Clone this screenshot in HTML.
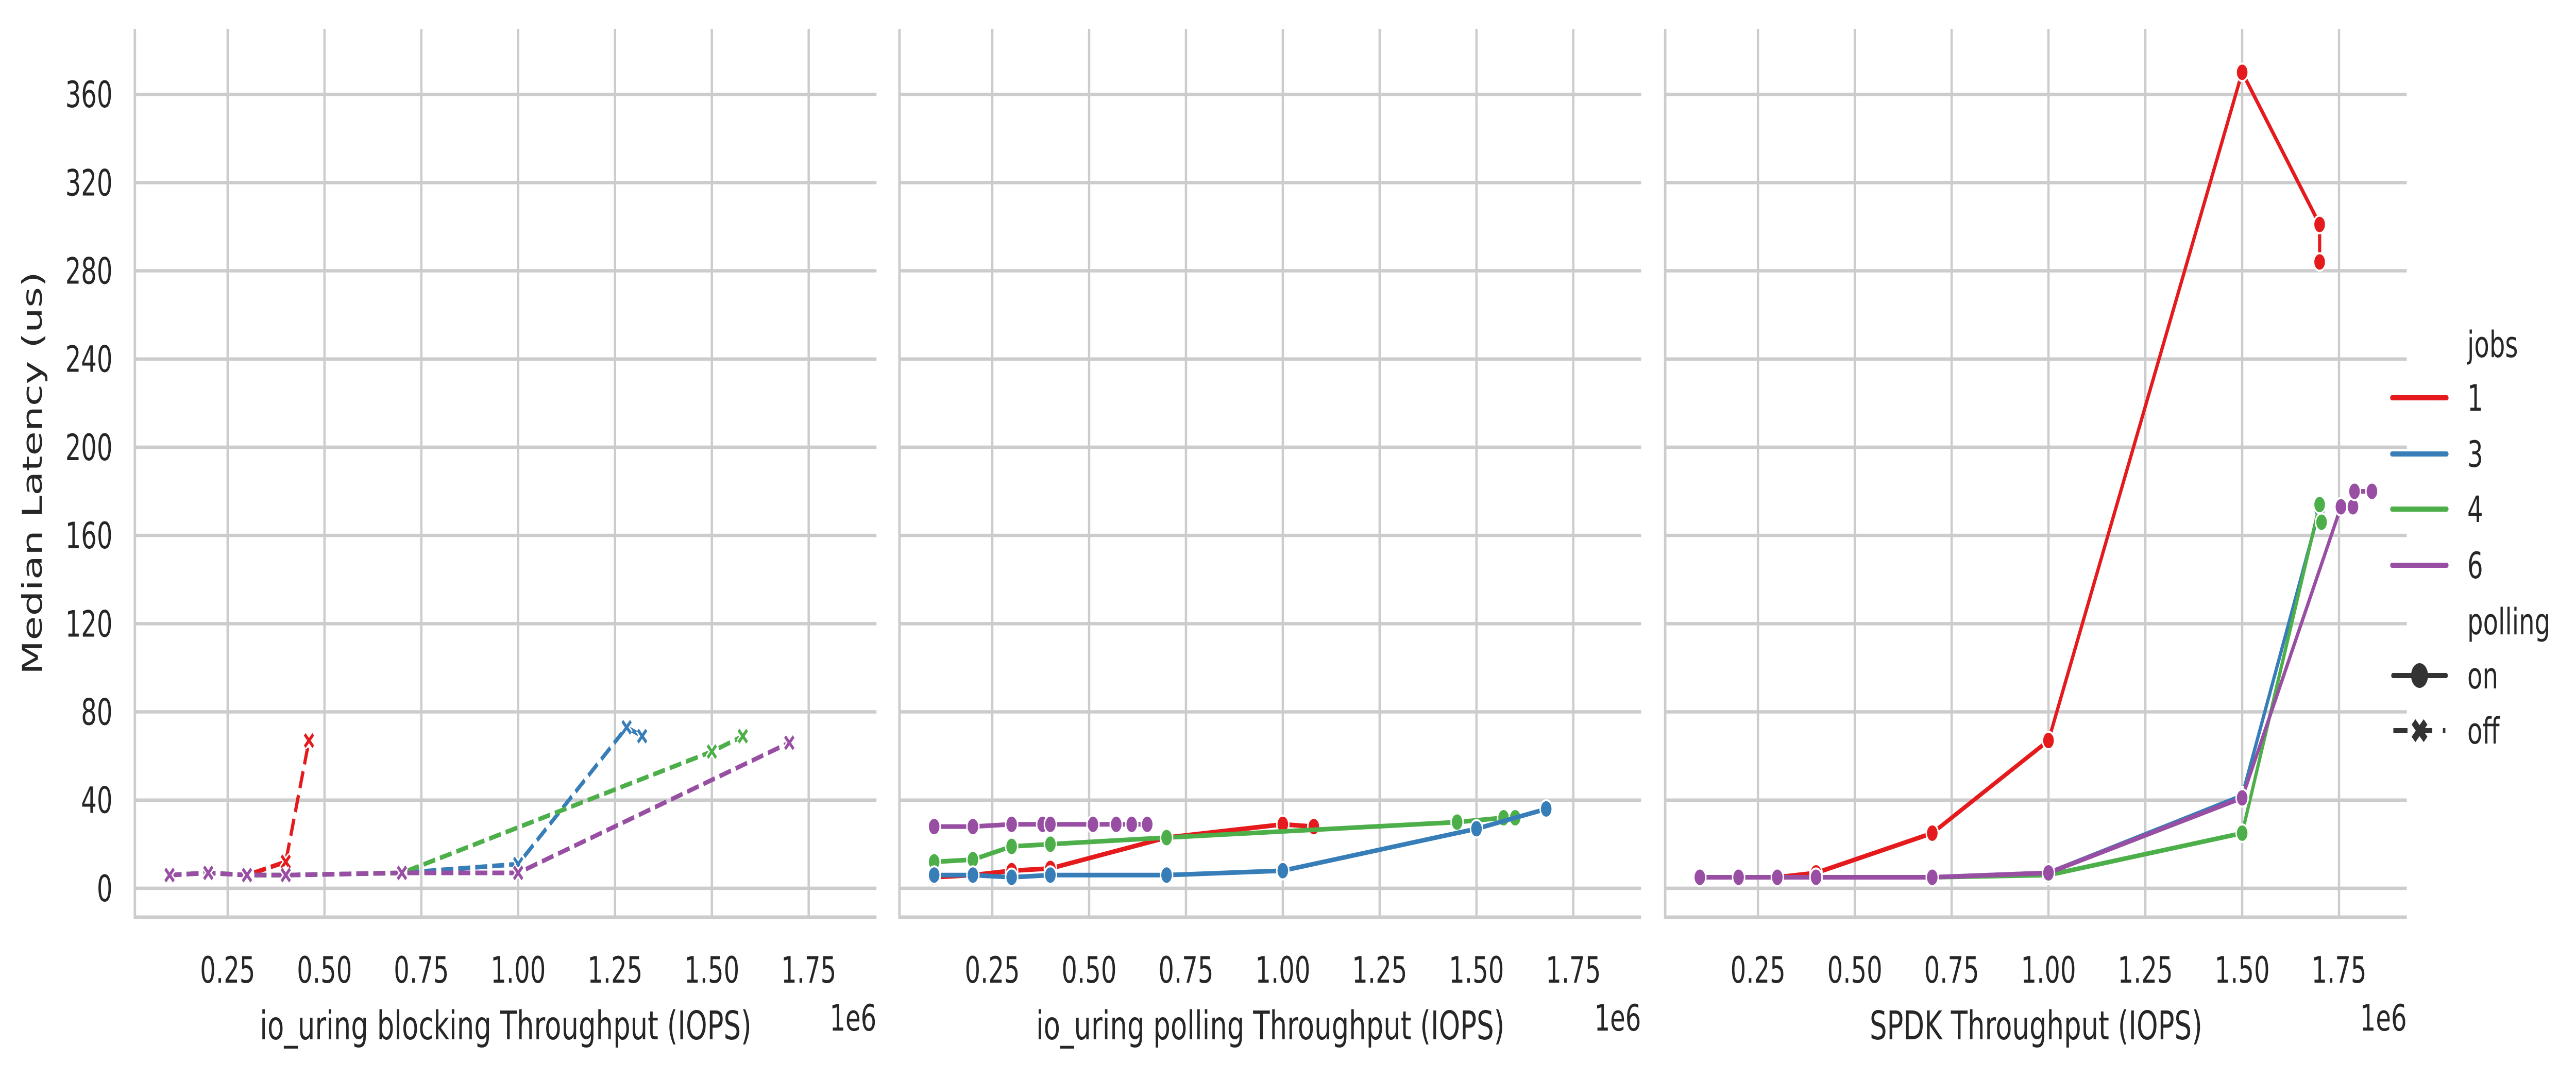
<!DOCTYPE html>
<html><head><meta charset="utf-8"><style>
html,body{margin:0;padding:0;background:#fff;overflow:hidden;width:100vw;height:100vh;}
svg{display:block;width:100vw;height:100vh;font-family:"DejaVu Sans","Liberation Sans",sans-serif;}
</style></head><body>
<svg id="chart" viewBox="0 0 7277 2094" preserveAspectRatio="none" xmlns="http://www.w3.org/2000/svg"></svg>
<script>
// ---- data (throughput in 1e6 IOPS, latency in us) ----
const panelTitles = ["io_uring blocking Throughput (IOPS)", "io_uring polling Throughput (IOPS)", "SPDK Throughput (IOPS)"];
const jobLabels = ["1", "3", "4", "6"];
const xTickLabels = ["0.25", "0.50", "0.75", "1.00", "1.25", "1.50", "1.75"];
const xTickValues = [0.25, 0.5, 0.75, 1.0, 1.25, 1.5, 1.75];
const yTickValues = [0, 40, 80, 120, 160, 200, 240, 280, 320, 360];

// panel 1: blocking (polling off)
const blkJ1x = [0.1, 0.2, 0.3, 0.4, 0.46];
const blkJ1y = [6, 7, 6, 12, 67];
const blkJ3x = [0.1, 0.2, 0.3, 0.4, 0.7, 1.0, 1.28, 1.32];
const blkJ3y = [6, 7, 6, 6, 7, 11, 73, 69];
const blkJ4x = [0.1, 0.2, 0.3, 0.4, 0.7, 1.5, 1.58];
const blkJ4y = [6, 7, 6, 6, 7, 62, 69];
const blkJ6x = [0.1, 0.2, 0.3, 0.4, 0.7, 1.0, 1.7];
const blkJ6y = [6, 7, 6, 6, 7, 7, 66];

// panel 2: io_uring polling (polling on)
const polJ1x = [0.1, 0.2, 0.3, 0.4, 0.7, 1.0, 1.08];
const polJ1y = [5, 6, 8, 9, 23, 29, 28];
const polJ3x = [0.1, 0.2, 0.3, 0.4, 0.7, 1.0, 1.5, 1.68];
const polJ3y = [6, 6, 5, 6, 6, 8, 27, 36];
const polJ4x = [0.1, 0.2, 0.3, 0.4, 0.7, 1.45, 1.57, 1.6];
const polJ4y = [12, 13, 19, 20, 23, 30, 32, 32];
const polJ6x = [0.1, 0.2, 0.3, 0.38, 0.4, 0.51, 0.57, 0.61, 0.65];
const polJ6y = [28, 28, 29, 29, 29, 29, 29, 29, 29];

// panel 3: SPDK (polling on)
const spdJ1x = [0.1, 0.2, 0.3, 0.4, 0.7, 1.0, 1.5, 1.7];
const spdJ1y = [5, 5, 5, 7, 25, 67, 370, 301];
const spdJ1offx = [1.7, 1.7];
const spdJ1offy = [301, 284];
const spdJ3x = [0.1, 0.2, 0.3, 0.4, 0.7, 1.0, 1.5, 1.7];
const spdJ3y = [5, 5, 5, 5, 5, 7, 42, 172];
const spdJ4x = [0.1, 0.2, 0.3, 0.4, 0.7, 1.0, 1.5, 1.7, 1.705];
const spdJ4y = [5, 5, 5, 5, 5, 6, 25, 174, 166];
const spdJ6x = [0.1, 0.2, 0.3, 0.4, 0.7, 1.0, 1.5, 1.755, 1.786];
const spdJ6y = [5, 5, 5, 5, 5, 7, 41, 173, 173];
const spdJ6offx = [1.79, 1.835];
const spdJ6offy = [180, 180];

const colors = ["#e41a1c", "#377eb8", "#4daf4a", "#984ea3"];

// ---- layout ----
const NS = "http://www.w3.org/2000/svg";
const svg = document.getElementById("chart");
const panelLeft = [381, 2541, 4704];
const panelW = 2095;
const axTop = 56, axBottom = 1780;
const xMin = 0.0105, xMax = 1.925;
const yMin = -13.1, yMax = 389.7;
function xScale(p, v) { return panelLeft[p] + (v - xMin) / (xMax - xMin) * panelW; }
function yScale(v) { return axBottom - (v - yMin) / (yMax - yMin) * (axBottom - axTop); }

function mk(tag, attrs, parent) {
  const e = document.createElementNS(NS, tag);
  for (const k in attrs) e.setAttribute(k, attrs[k]);
  (parent || svg).appendChild(e);
  return e;
}

const panels = [];
for (let p = 0; p < 3; p++) {
  const g = mk("g", {});
  
  
  panels.push(g);
  const L = panelLeft[p], R = L + panelW;
  yTickValues.forEach(v => {
    const y = yScale(v);
    const ln = mk("line", {x1: L, x2: R, y1: y, y2: y, stroke: "#cccccc", "stroke-width": 6.5}, g);
    
    
  });
  xTickValues.forEach((v, i) => {
    const x = xScale(p, v);
    const ln = mk("line", {x1: x, x2: x, y1: axTop, y2: axBottom, stroke: "#cccccc", "stroke-width": 6.5}, g);
    
    
    const t = mk("text", {x: x, y: 1907, "text-anchor": "middle", "font-size": 70, fill: "#262626"}, g);
    t.textContent = xTickLabels[i];
    
    
  });
  const sl = mk("line", {x1: L, x2: L, y1: axTop, y2: axBottom + 3, stroke: "#cccccc", "stroke-width": 7}, g);
  
  
  const sb = mk("line", {x1: L, x2: R, y1: axBottom, y2: axBottom, stroke: "#cccccc", "stroke-width": 7}, g);
  
  
  const xt = mk("text", {x: L + panelW / 2, y: 2017, "text-anchor": "middle", "font-size": 77, fill: "#262626"}, g);
  xt.textContent = panelTitles[p];
  
  
  const oe = mk("text", {x: R, y: 2000, "text-anchor": "end", "font-size": 70, fill: "#262626"}, g);
  oe.textContent = "1e6";
  
  
}
yTickValues.forEach(v => {
  const t = mk("text", {x: 318, y: yScale(v) + 25, "text-anchor": "end", "font-size": 70, fill: "#262626"});
  t.textContent = String(v);
  
  
});
const yt = mk("text", {x: 0, y: 0, "text-anchor": "middle", "font-size": 77, fill: "#262626", transform: "translate(118,918) rotate(-90)"});
yt.textContent = "Median Latency (us)";



function xMarkerPath(cx, cy, s) {
  return `M${cx - s},${cy - s}L${cx + s},${cy + s}M${cx - s},${cy + s}L${cx + s},${cy - s}`;
}
function drawSeries(p, xs, ys, color, off, name) {
  const g = mk("g", {}, panels[p]);
  
  
  const pts = xs.map((v, i) => xScale(p, v).toFixed(1) + "," + yScale(ys[i]).toFixed(1)).join(" ");
  const line = mk("polyline", {points: pts, fill: "none", stroke: color, "stroke-width": 9, "stroke-linejoin": "round", "stroke-dasharray": off ? "34,14" : "none"}, g);
  
  
  xs.forEach((v, i) => {
    const cx = xScale(p, v), cy = yScale(ys[i]);
    let m;
    if (off) {
      mk("path", {d: xMarkerPath(cx, cy, 12), stroke: "#fff", "stroke-width": 14, fill: "none"}, g);
      m = mk("path", {d: xMarkerPath(cx, cy, 12), stroke: color, "stroke-width": 7, fill: "none"}, g);
    } else {
      m = mk("circle", {cx: cx, cy: cy, r: 17, fill: color, stroke: "#fff", "stroke-width": 4}, g);
    }
    
    
  });
}
drawSeries(0, blkJ1x, blkJ1y, colors[0], true, "blocking-jobs-1");
drawSeries(0, blkJ3x, blkJ3y, colors[1], true, "blocking-jobs-3");
drawSeries(0, blkJ4x, blkJ4y, colors[2], true, "blocking-jobs-4");
drawSeries(0, blkJ6x, blkJ6y, colors[3], true, "blocking-jobs-6");
drawSeries(1, polJ6x, polJ6y, colors[3], false, "polling-jobs-6");
drawSeries(1, polJ1x, polJ1y, colors[0], false, "polling-jobs-1");
drawSeries(1, polJ4x, polJ4y, colors[2], false, "polling-jobs-4");
drawSeries(1, polJ3x, polJ3y, colors[1], false, "polling-jobs-3");
drawSeries(2, spdJ1x, spdJ1y, colors[0], false, "spdk-jobs-1");
drawSeries(2, spdJ1offx, spdJ1offy, colors[0], false, "spdk-jobs-1-extra");
drawSeries(2, spdJ3x, spdJ3y, colors[1], false, "spdk-jobs-3");
drawSeries(2, spdJ4x, spdJ4y, colors[2], false, "spdk-jobs-4");
drawSeries(2, spdJ6x, spdJ6y, colors[3], false, "spdk-jobs-6");
drawSeries(2, spdJ6offx, spdJ6offy, colors[3], false, "spdk-jobs-6-extra");

const lg = mk("g", {});


function lgText(y, s, name) {
  const t = mk("text", {x: 6970, y: y + 25, "font-size": 70, fill: "#262626"}, lg);
  t.textContent = s;
  
  
}
lgText(668, "jobs", "legend-title-jobs");
const lgY = [772, 881, 988, 1097];
jobLabels.forEach((s, i) => {
  const l = mk("line", {x1: 6757, x2: 6912, y1: lgY[i], y2: lgY[i], stroke: colors[i], "stroke-width": 10, "stroke-linecap": "round"}, lg);
  
  
  lgText(lgY[i], s, 'legend-entry-jobs-' + s);
});
lgText(1206, "polling", "legend-title-polling");
const onL = mk("line", {x1: 6760, x2: 6910, y1: 1311, y2: 1311, stroke: "#333", "stroke-width": 10, "stroke-linecap": "round"}, lg);


mk("circle", {cx: 6835, cy: 1311, r: 24, fill: "#333"}, lg);
lgText(1311, "on", "legend-entry-on");
const offL = mk("line", {x1: 6761, x2: 6908, y1: 1418, y2: 1418, stroke: "#333", "stroke-width": 10, "stroke-dasharray": "40,30"}, lg);


mk("path", {d: xMarkerPath(6835, 1418, 17), stroke: "#333", "stroke-width": 15, fill: "none"}, lg);
lgText(1418, "off", "legend-entry-off");
</script>
</body></html>
